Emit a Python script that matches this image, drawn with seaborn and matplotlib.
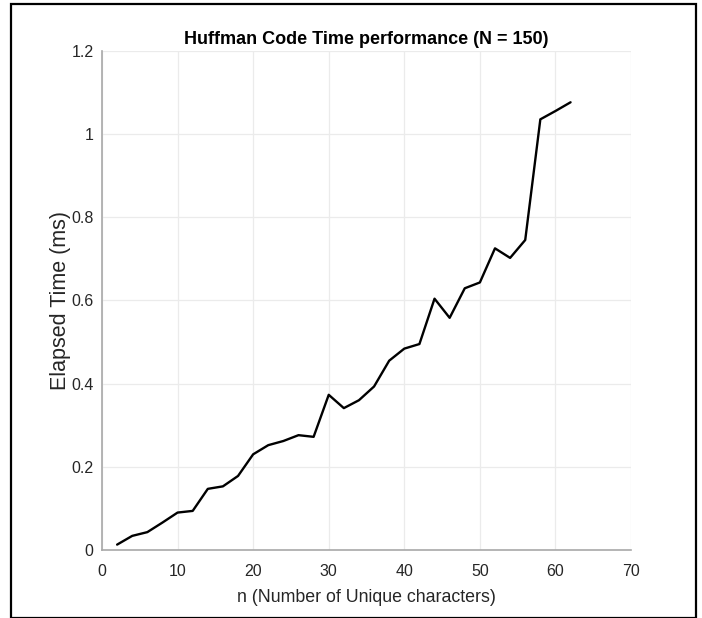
import matplotlib
matplotlib.use("Agg")
import matplotlib.pyplot as plt
import seaborn as sns
import pandas as pd
from matplotlib.patches import Rectangle

n_unique = [2, 4, 6, 8, 10, 12, 14, 16, 18, 20, 22, 24, 26, 28, 30, 32,
            34, 36, 38, 40, 42, 44, 46, 48, 50, 52, 54, 56, 58, 60, 62]
elapsed_ms = [0.013, 0.034, 0.043, 0.066, 0.090, 0.094, 0.147, 0.153, 0.178,
              0.230, 0.252, 0.262, 0.276, 0.272, 0.373, 0.341, 0.360, 0.393,
              0.455, 0.484, 0.495, 0.604, 0.558, 0.629, 0.643, 0.725, 0.702,
              0.745, 1.035, 1.055, 1.076]
x_ticks = [0, 10, 20, 30, 40, 50, 60, 70]
y_ticks = [0, 0.2, 0.4, 0.6, 0.8, 1.0, 1.2]
y_tick_labels = ["0", "0.2", "0.4", "0.6", "0.8", "1", "1.2"]

sns.set_theme(style="white")
plt.rcParams['font.family'] = ['Liberation Sans', 'DejaVu Sans']

df = pd.DataFrame({"n": n_unique, "t": elapsed_ms})

fig = plt.figure(figsize=(7.02, 6.18), dpi=100)
ax = fig.add_axes([0.1453, 0.1100, 0.7536, 0.808])

sns.lineplot(data=df, x="n", y="t", ax=ax, color="black", linewidth=1.7)

ax.set_xlim(0, 70)
ax.set_ylim(0, 1.2)
ax.set_xticks(x_ticks)
ax.set_yticks(y_ticks)
ax.set_yticklabels(y_tick_labels)

ax.grid(True, color="#ebebeb", linewidth=0.9)
ax.set_axisbelow(True)

for s in ["top", "right"]:
    ax.spines[s].set_visible(False)
for s in ["left", "bottom"]:
    ax.spines[s].set_color("#a8a8a8")
    ax.spines[s].set_linewidth(1.2)

ax.tick_params(axis="both", direction="in", length=4, width=0.8,
               color="#a8a8a8", labelcolor="#262626", labelsize=11.5)
ax.tick_params(axis="x", pad=10)
ax.tick_params(axis="y", pad=6)

ax.set_xlabel("n (Number of Unique characters)", fontsize=12.8, color="#262626", labelpad=7)
ax.set_ylabel("Elapsed Time (ms)", fontsize=15.5, color="#262626", labelpad=0)
ax.set_title("Huffman Code Time performance (N = 150)", fontsize=13,
             fontweight="bold", color="black", pad=5)

# outer frame
fig.patches.append(Rectangle((11 / 702, 0.0), (696 - 11) / 702, (617 - 4 + 1) / 618,
                             transform=fig.transFigure, fill=False,
                             edgecolor="black", linewidth=1.6, zorder=10))

fig.savefig("out.png", dpi=100)
